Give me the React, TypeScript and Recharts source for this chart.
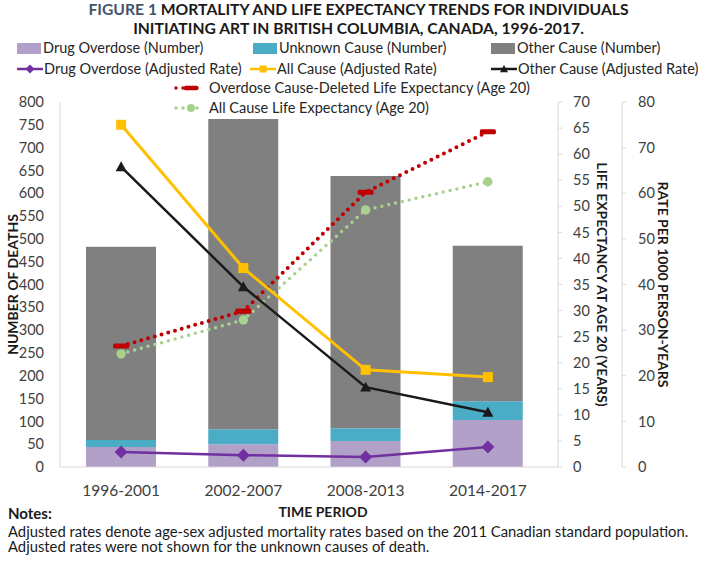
import React from 'react';
import { ComposedChart, Bar, Line, XAxis, YAxis, Legend, Label } from 'recharts';

const periods = ['1996-2001', '2002-2007', '2008-2013', '2014-2017'];
const drugOverdoseDeaths = [44, 50, 57, 103];
const unknownCauseDeaths = [15, 33, 28, 41];
const otherCauseDeaths = [424, 680, 553, 341];
const drugOverdoseRate = [3.3, 2.6, 2.2, 4.4];
const allCauseRate = [75, 43.6, 21.3, 19.7];
const otherCauseRate = [65.8, 39.5, 17.5, 12];
const overdoseDeletedLifeExp = [23.2, 29.9, 52.7, 64.3];
const allCauseLifeExp = [21.7, 28.2, 49.3, 54.7];

const deathTicks = [0, 50, 100, 150, 200, 250, 300, 350, 400, 450, 500, 550, 600, 650, 700, 750, 800];
const lifeExpTicks = [0, 5, 10, 15, 20, 25, 30, 35, 40, 45, 50, 55, 60, 65, 70];
const rateTicks = [0, 10, 20, 30, 40, 50, 60, 70, 80];

const notes = [
  'Adjusted rates denote age-sex adjusted mortality rates based on the 2011 Canadian standard population.',
  'Adjusted rates were not shown for the unknown causes of death.',
];

const data = periods.map((period, i) => ({
  period,
  drugDeaths: drugOverdoseDeaths[i],
  unknownDeaths: unknownCauseDeaths[i],
  otherDeaths: otherCauseDeaths[i],
  drugRate: drugOverdoseRate[i],
  allRate: allCauseRate[i],
  otherRate: otherCauseRate[i],
  odDeletedLE: overdoseDeletedLifeExp[i],
  allLE: allCauseLifeExp[i],
}));

const FONT = 'Lato, "Open Sans", sans-serif';
const C = {
  drugBar: '#b1a0c7',
  unknownBar: '#4bacc6',
  otherBar: '#808080',
  drugLine: '#7030a0',
  allLine: '#ffc000',
  otherLine: '#1a1a1a',
  odLE: '#c00000',
  allLE: '#a9d18e',
  axis: '#d9d9d9',
  text: '#404040',
};

// marker shapes, shared by the lines and the legend
const diamond = (cx: number, cy: number, s: number, fill: string) => (
  <path d={`M${cx},${cy - s}L${cx + s},${cy}L${cx},${cy + s}L${cx - s},${cy}Z`} fill={fill} />
);
const square = (cx: number, cy: number, s: number, fill: string) => (
  <rect x={cx - s} y={cy - s} width={s * 2} height={s * 2} fill={fill} />
);
const triangle = (cx: number, cy: number, s: number, fill: string) => (
  <path d={`M${cx},${cy - s}L${cx + s},${cy + s * 0.8}L${cx - s},${cy + s * 0.8}Z`} fill={fill} />
);
const dash = (cx: number, cy: number, s: number, fill: string) => (
  <rect x={cx - s} y={cy - s * 0.32} width={s * 2} height={s * 0.64} rx={1.5} fill={fill} />
);
const circle = (cx: number, cy: number, s: number, fill: string) => <circle cx={cx} cy={cy} r={s} fill={fill} />;

const makeDot = (shape: typeof diamond, s: number, fill: string) => (props: any) => {
  const { cx, cy, index } = props;
  if (cx == null || cy == null) return <g key={index} />;
  return <g key={index}>{shape(cx, cy, s, fill)}</g>;
};

const barItems = [
  { name: 'Drug Overdose (Number)', color: C.drugBar, left: 17 },
  { name: 'Unknown Cause (Number)', color: C.unknownBar, left: 253 },
  { name: 'Other Cause (Number)', color: C.otherBar, left: 491 },
];
const rateItems = [
  { name: 'Drug Overdose (Adjusted Rate)', color: C.drugLine, shape: diamond, s: 4.5, left: 17 },
  { name: 'All Cause (Adjusted Rate)', color: C.allLine, shape: square, s: 3.5, left: 250 },
  { name: 'Other Cause (Adjusted Rate)', color: C.otherLine, shape: triangle, s: 4, left: 491 },
];
const lifeItems = [
  { name: 'Overdose Cause-Deleted Life Expectancy (Age 20)', color: C.odLE, shape: dash, s: 7, left: 174 },
  { name: 'All Cause Life Expectancy (Age 20)', color: C.allLE, shape: circle, s: 4, left: 174 },
];

const legendText: React.CSSProperties = {
  position: 'absolute',
  fontFamily: FONT,
  fontSize: 14.5,
  color: '#262626',
  whiteSpace: 'nowrap',
  lineHeight: '18px',
};

const renderLegend = () => (
  <div style={{ position: 'relative', width: 709, height: 80 }}>
    {barItems.map((it) => (
      <div key={it.name} style={{ ...legendText, left: it.left, top: 1, display: 'flex', alignItems: 'center' }}>
        <span style={{ display: 'inline-block', width: 24, height: 11, background: it.color, marginRight: 2 }} />
        {it.name}
      </div>
    ))}
    {rateItems.map((it) => (
      <div key={it.name} style={{ ...legendText, left: it.left, top: 22, display: 'flex', alignItems: 'center' }}>
        <svg width={26} height={12} style={{ marginRight: 1 }}>
          <line x1={0} y1={6} x2={26} y2={6} stroke={it.color} strokeWidth={2.5} />
          {it.shape(13, 6, it.s, it.color)}
        </svg>
        {it.name}
      </div>
    ))}
    {lifeItems.map((it, i) => (
      <div key={it.name} style={{ ...legendText, left: it.left, top: 41 + i * 20, display: 'flex', alignItems: 'center' }}>
        <svg width={28} height={12} style={{ marginRight: 7 }}>
          <line x1={2} y1={6} x2={26} y2={6} stroke={it.color} strokeWidth={3.5} strokeDasharray="0 7" strokeLinecap="round" />
          {it.shape(17, 6, it.s, it.color)}
        </svg>
        {it.name}
      </div>
    ))}
  </div>
);

const tickStyle = { fill: C.text, fontSize: 14.5, fontFamily: FONT };
const axisTitle = { fill: '#1a1a1a', fontSize: 14, fontWeight: 700, fontFamily: FONT };

export default function App() {
  return (
    <div style={{ position: 'absolute', left: 0, top: 0, width: 709, height: 563, background: '#fff', overflow: 'hidden' }}>
      <div
        style={{
          position: 'absolute',
          top: 0,
          left: 4,
          width: 709,
          textAlign: 'center',
          fontFamily: FONT,
          fontWeight: 700,
          fontSize: 15.7,
          lineHeight: '18.5px',
          color: '#1a1a1a',
        }}
      >
        <span style={{ color: '#44546a' }}>FIGURE 1</span> MORTALITY AND LIFE EXPECTANCY TRENDS FOR INDIVIDUALS
        <br />
        INITIATING ART IN BRITISH COLUMBIA, CANADA, 1996-2017.
      </div>

      <ComposedChart
        width={709}
        height={563}
        data={data}
        margin={{ top: 102, right: 27, bottom: 36, left: 0 }}
        style={{ position: 'absolute', left: 0, top: 0 }}
      >
        <XAxis
          dataKey="period"
          height={60}
          padding={{ left: 0, right: 9 }}
          axisLine={{ stroke: C.axis }}
          tickLine={false}
          tickMargin={12}
          tick={{ ...tickStyle, fontSize: 15.5 }}
        >
          <Label value="TIME PERIOD" position="center" dx={14} dy={15} style={axisTitle} />
        </XAxis>
        <YAxis
          yAxisId="deaths"
          width={60}
          domain={[0, 800]}
          ticks={deathTicks}
          interval={0}
          axisLine={{ stroke: C.axis }}
          tickLine={false}
          tickMargin={10}
          tick={tickStyle}
        >
          <Label value="NUMBER OF DEATHS" angle={-90} position="center" dx={-17} style={axisTitle} />
        </YAxis>
        <YAxis
          yAxisId="life"
          orientation="right"
          width={64}
          domain={[0, 70]}
          ticks={lifeExpTicks}
          interval={0}
          axisLine={{ stroke: C.axis }}
          tickLine={{ stroke: C.axis }}
          tickSize={4}
          tickMargin={11}
          tick={tickStyle}
        >
          <Label value="LIFE EXPECTANCY AT AGE 20 (YEARS)" angle={90} position="center" dx={12} style={axisTitle} />
        </YAxis>
        <YAxis
          yAxisId="rate"
          orientation="right"
          width={60}
          domain={[0, 80]}
          ticks={rateTicks}
          interval={0}
          axisLine={{ stroke: C.axis }}
          tickLine={{ stroke: C.axis }}
          tickSize={4}
          tickMargin={12}
          tick={tickStyle}
        >
          <Label value="RATE PER 1000 PERSON-YEARS" angle={90} position="center" dx={11} style={axisTitle} />
        </YAxis>

        <Legend
          layout="horizontal"
          verticalAlign="middle"
          align="center"
          content={renderLegend}
          wrapperStyle={{ top: 38, left: 0, width: 709 }}
        />

        <Bar yAxisId="deaths" dataKey="drugDeaths" name="Drug Overdose (Number)" stackId="n" fill={C.drugBar} barSize={70} isAnimationActive={false} />
        <Bar yAxisId="deaths" dataKey="unknownDeaths" name="Unknown Cause (Number)" stackId="n" fill={C.unknownBar} barSize={70} isAnimationActive={false} />
        <Bar yAxisId="deaths" dataKey="otherDeaths" name="Other Cause (Number)" stackId="n" fill={C.otherBar} barSize={70} isAnimationActive={false} />

        <Line yAxisId="life" dataKey="odDeletedLE" name="Overdose Cause-Deleted Life Expectancy (Age 20)" stroke={C.odLE} strokeWidth={4} strokeDasharray="0 7" strokeLinecap="round" dot={makeDot(dash, 8, C.odLE)} isAnimationActive={false} />
        <Line yAxisId="life" dataKey="allLE" name="All Cause Life Expectancy (Age 20)" stroke={C.allLE} strokeWidth={3.5} strokeDasharray="0 7" strokeLinecap="round" dot={makeDot(circle, 4.7, C.allLE)} isAnimationActive={false} />
        <Line yAxisId="rate" dataKey="otherRate" name="Other Cause (Adjusted Rate)" stroke={C.otherLine} strokeWidth={2.5} dot={makeDot(triangle, 5.5, C.otherLine)} isAnimationActive={false} />
        <Line yAxisId="rate" dataKey="allRate" name="All Cause (Adjusted Rate)" stroke={C.allLine} strokeWidth={3} dot={makeDot(square, 5, C.allLine)} isAnimationActive={false} />
        <Line yAxisId="rate" dataKey="drugRate" name="Drug Overdose (Adjusted Rate)" stroke={C.drugLine} strokeWidth={2.5} dot={makeDot(diamond, 6.5, C.drugLine)} isAnimationActive={false} />
      </ComposedChart>

      <div style={{ position: 'absolute', left: 8, top: 504, fontFamily: FONT, fontWeight: 700, fontSize: 15, lineHeight: '18px', color: '#1a1a1a' }}>
        Notes:
      </div>
      {notes.map((line, i) => (
        <div
          key={line}
          style={{
            position: 'absolute',
            left: 8,
            top: 524 + i * 15,
            fontFamily: FONT,
            fontSize: 14.8,
            lineHeight: '14px',
            color: '#1a1a1a',
            whiteSpace: 'nowrap',
          }}
        >
          {line}
        </div>
      ))}
    </div>
  );
}
